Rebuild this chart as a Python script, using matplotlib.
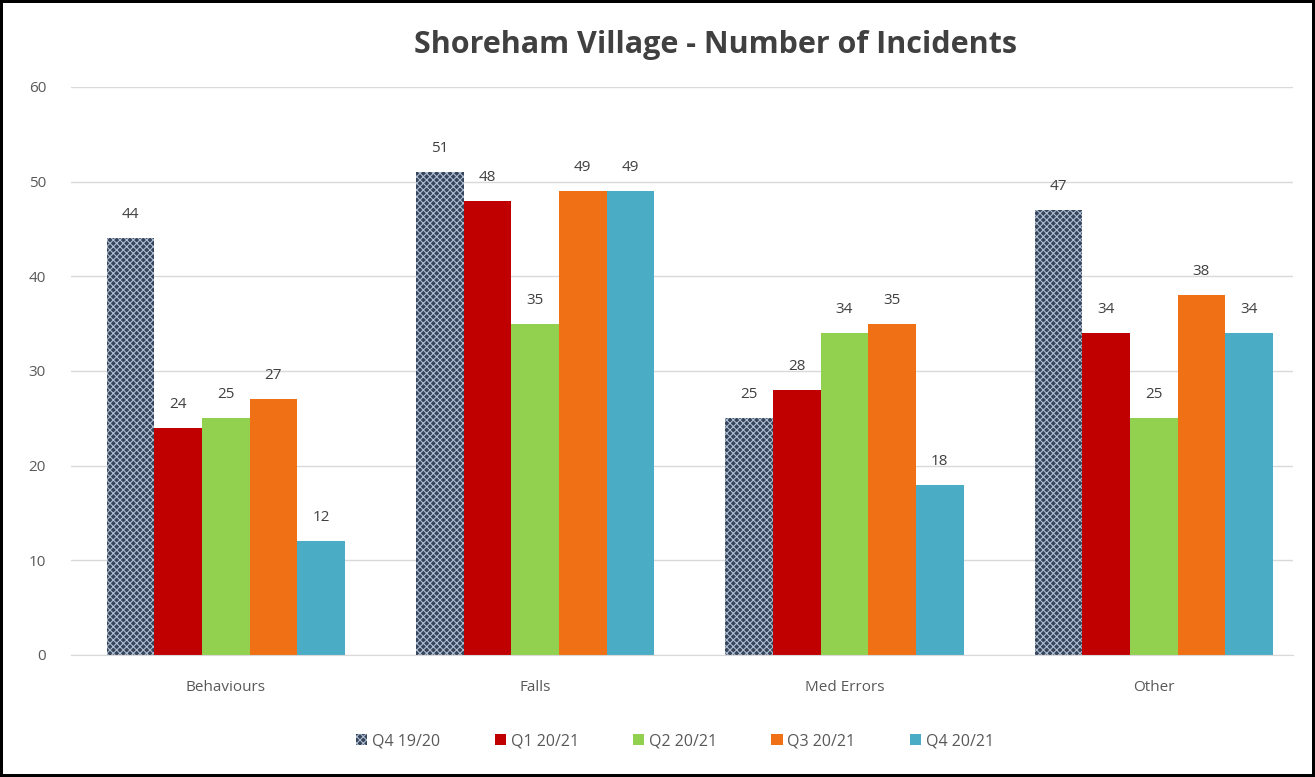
import matplotlib
matplotlib.use("Agg")
import matplotlib.pyplot as plt
import numpy as np

categories = ["Behaviours", "Falls", "Med Errors", "Other"]
series = ["Q4 19/20", "Q1 20/21", "Q2 20/21", "Q3 20/21", "Q4 20/21"]
q4_1920 = [44, 51, 25, 47]
q1_2021 = [24, 48, 28, 34]
q2_2021 = [25, 35, 34, 25]
q3_2021 = [27, 49, 35, 38]
q4_2021 = [12, 49, 18, 34]
values = [q4_1920, q1_2021, q2_2021, q3_2021, q4_2021]
colors = ["#36445c", "#c00000", "#92d050", "#f07016", "#4bacc6"]

plt.rcParams["font.family"] = ["Open Sans", "DejaVu Sans"]
plt.rcParams["hatch.linewidth"] = 0.8

fig = plt.figure(figsize=(13.15, 7.77), dpi=100)
fig.patch.set_edgecolor("black")
fig.patch.set_linewidth(4)
# axes placed in pixels: x from 71 to 1293, y from 87 (60) to 655 (0)
ax = fig.add_axes([71 / 1315, 1 - 655 / 777, 1222 / 1315, 568 / 777])

x = np.arange(len(categories))
w = 0.154
for i, (name, vals) in enumerate(zip(series, values)):
    pos = x + (i - 2) * w
    if i == 0:
        bars = ax.bar(pos, vals, w, color=colors[i], hatch="xxxxx",
                      edgecolor="#aebdd0", linewidth=0, label=name)
    else:
        bars = ax.bar(pos, vals, w, color=colors[i], linewidth=0, label=name)
    for b, v in zip(bars, vals):
        ax.text(b.get_x() + b.get_width() / 2, v + 1.7, str(v),
                ha="center", va="bottom", fontsize=11, color="#404040")

ax.set_xlim(-0.5, 3.45)
ax.set_ylim(0, 60)
ax.set_yticks(range(0, 61, 10))
ax.set_xticks(x)
ax.set_xticklabels(categories)
ax.tick_params(axis="both", length=0, labelsize=11, labelcolor="#595959")
ax.tick_params(axis="y", pad=18)
ax.tick_params(axis="x", pad=18)
ax.grid(axis="y", color="#d9d9d9", linewidth=1)
ax.set_axisbelow(True)
for s in ["top", "right", "left"]:
    ax.spines[s].set_visible(False)
ax.spines["bottom"].set_color("#d9d9d9")

fig.text(715 / 1315, 1 - 45 / 777, "Shoreham Village - Number of Incidents",
         ha="center", va="center", fontsize=22, fontweight="bold",
         color="#404040")

ax.legend(loc="center", bbox_to_anchor=(675 / 1315, 1 - 741 / 777),
          bbox_transform=fig.transFigure, ncol=5, frameon=False,
          fontsize=11.5, handlelength=0.7, handleheight=0.7,
          columnspacing=3.4, handletextpad=0.3, labelcolor="#595959")

fig.savefig("out.png", dpi=100, edgecolor=fig.get_edgecolor())
